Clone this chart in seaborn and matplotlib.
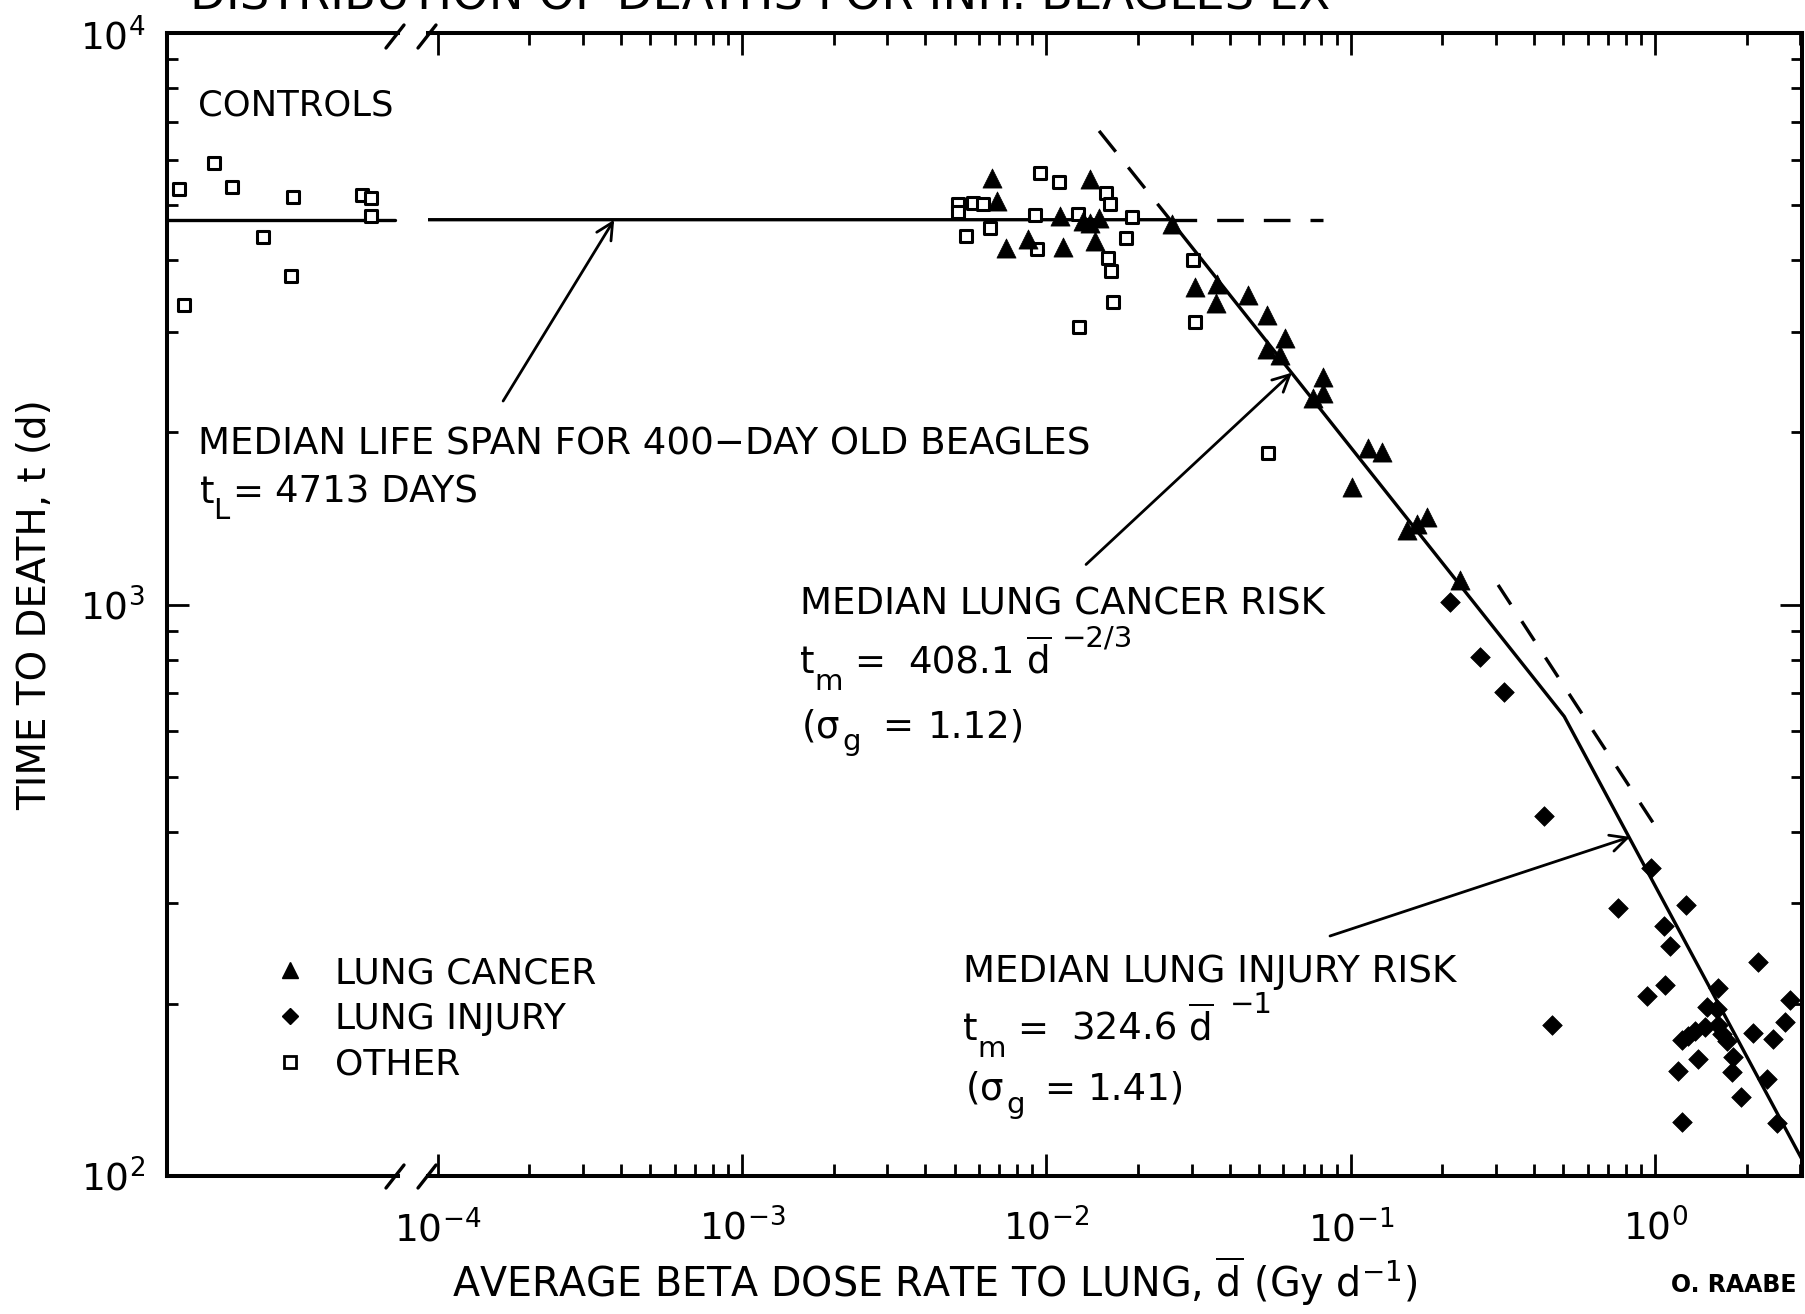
import matplotlib
matplotlib.use("Agg")
import matplotlib.pyplot as plt
import numpy as np
import pandas as pd
import seaborn as sns
from matplotlib.lines import Line2D
from matplotlib.ticker import LogLocator, NullFormatter, LogFormatterMathtext

# ---------------- data ----------------
# controls: position inside the control panel (no dose), time to death (d)
control_pos = [0.053, 0.203, 0.283, 0.547, 0.845, 0.882, 0.882, 0.417, 0.537, 0.075]
control_t = [5340, 5923, 5368, 5162, 5212, 5150, 4788, 4391, 3758, 3342]

cancer_d = [0.00664, 0.00687, 0.0139, 0.01108, 0.01322, 0.0139, 0.0149, 0.00736,
            0.00868, 0.01131, 0.01445, 0.0258, 0.03078, 0.03627, 0.036, 0.04608,
            0.05297, 0.0608, 0.053, 0.05856, 0.0813, 0.0813, 0.0754, 0.1143,
            0.1264, 0.1008, 0.1777, 0.1528, 0.165, 0.2286]
cancer_t = [5585, 5085, 5550, 4786, 4690, 4644, 4742, 4198,
            4358, 4214, 4328, 4641, 3597, 3631, 3363, 3478,
            3210, 2922, 2805, 2733, 2503, 2341, 2294, 1877,
            1851, 1608, 1424, 1350, 1385, 1104]

injury_d = [0.212, 0.266, 0.319, 0.4317, 0.7576, 0.4597, 0.968, 1.261, 1.073, 1.12,
            2.186, 1.079, 0.939, 1.607, 1.485, 1.595, 2.777, 2.675, 2.104, 2.437,
            1.224, 1.286, 1.353, 1.459, 1.615, 1.657, 1.72, 1.388, 1.808, 1.193,
            1.786, 2.327, 1.912, 1.224, 2.523]
injury_t = [1009, 808, 702, 426, 294.8, 183.4, 346.4, 298, 274.2, 252.3,
            236.9, 216.3, 206.4, 213.3, 197.2, 195.6, 202.9, 186.1, 177.7, 173.7,
            173.2, 175.8, 179.5, 182.1, 183.4, 176.9, 172, 160, 161.3, 152.7,
            152.2, 147.9, 137.7, 124.5, 123.6]

other_d = [0.00953, 0.011, 0.005135, 0.00573, 0.0062, 0.005135, 0.00653, 0.00543,
           0.00918, 0.01273, 0.01915, 0.0157, 0.01618, 0.00929, 0.01823, 0.01597,
           0.01627, 0.0166, 0.01283, 0.03025, 0.03078, 0.05336]
other_t = [5700, 5490, 5030, 5035, 5017, 4852, 4567, 4405,
           4801, 4820, 4768, 5252, 5030, 4188, 4370, 4037,
           3837, 3378, 3053, 4005, 3125, 1844]

life_span = 4713  # t_L
# median-risk model line (vertices of the piecewise line)
model_d = [9.29e-5, 0.0255, 0.503, 3.04]
model_t = [4713, 4713, 637, 106.9]
# dashed extensions
plateau_ext_d = [0.0255, 0.081]
plateau_ext_t = [4713, 4713]
cancer_ext_d = [0.0149, 0.0255]
cancer_ext_t = [6740, 4713]
low_ext_d = [0.305, 1.0]
low_ext_t = [1082, 410]

legend_labels = ["LUNG CANCER", "LUNG INJURY", "OTHER"]

# ---------------- style ----------------
sns.set_theme(style="ticks")
plt.rcParams["font.family"] = ["DejaVu Sans"]
plt.rcParams["mathtext.fontset"] = "dejavusans"
plt.rcParams["mathtext.default"] = "regular"
for k in ("text.color", "axes.labelcolor", "xtick.color", "ytick.color", "axes.edgecolor"):
    plt.rcParams[k] = "black"

W, H = 1806, 1314
fig = plt.figure(figsize=(W / 100, H / 100), dpi=100)
fig.patch.set_facecolor("white")


def fx(px):
    return px / W


def fy(py):
    return 1 - py / H


TOP, BOT = 33, 1176
axL = fig.add_axes([fx(167), fy(BOT), fx(398) - fx(167), fy(TOP) - fy(BOT)])
axR = fig.add_axes([fx(428), fy(BOT), fx(1802) - fx(428), fy(TOP) - fy(BOT)])
for a in (axL, axR):
    a.set_facecolor("white")
    a.set_yscale("log")
    a.set_ylim(100, 10000)
    for s in a.spines.values():
        s.set_linewidth(2.9)
        s.set_color("black")

axR.set_xscale("log")
axR.set_xlim(9.29e-5, 3.04)
axL.set_xlim(0, 1)

LW = 2.4
black = "black"

# ---- control panel ----
ctrl = pd.DataFrame({"pos": control_pos, "t": control_t})
sns.lineplot(x=[0, 0.985], y=[life_span, life_span], ax=axL, color=black, lw=LW,
             estimator=None, sort=False, legend=False)
sns.scatterplot(data=ctrl, x="pos", y="t", ax=axL, marker="s", s=85,
                facecolor="white", edgecolor=black, linewidth=2.2, legend=False, zorder=5)

# ---- main panel lines ----
def draw_line(xd, yd, **kw):
    sns.lineplot(x=xd, y=yd, ax=axR, color=black, estimator=None, sort=False,
                 legend=False, **kw)

draw_line(model_d, model_t, lw=LW)
draw_line(plateau_ext_d, plateau_ext_t, lw=LW, linestyle=(0, (8, 6)))
draw_line(cancer_ext_d, cancer_ext_t, lw=LW, linestyle=(0, (8, 6)))
draw_line(low_ext_d, low_ext_t, lw=LW, linestyle=(0, (7, 6)))

# ---- main panel points ----
df_c = pd.DataFrame({"d": cancer_d, "t": cancer_t})
df_i = pd.DataFrame({"d": injury_d, "t": injury_t})
df_o = pd.DataFrame({"d": other_d, "t": other_t})
sns.scatterplot(data=df_o, x="d", y="t", ax=axR, marker="s", s=85,
                facecolor="white", edgecolor=black, linewidth=2.2, legend=False, zorder=5)
sns.scatterplot(data=df_c, x="d", y="t", ax=axR, marker="^", s=190,
                color=black, edgecolor=black, linewidth=0.5, legend=False, zorder=6)
sns.scatterplot(data=df_i, x="d", y="t", ax=axR, marker="D", s=100,
                color=black, edgecolor=black, linewidth=0.5, legend=False, zorder=6)

# ---- ticks / spines ----
axL.spines["right"].set_visible(False)
axR.spines["left"].set_visible(False)
axL.tick_params(axis="x", which="both", bottom=False, top=False, labelbottom=False)
axL.yaxis.set_major_locator(LogLocator(base=10, numticks=10))
axL.yaxis.set_minor_locator(LogLocator(base=10, subs=np.arange(2, 10), numticks=20))
axL.yaxis.set_major_formatter(LogFormatterMathtext())
axL.yaxis.set_minor_formatter(NullFormatter())
axL.tick_params(axis="y", which="major", direction="in", left=True, right=False,
                length=16, width=2.0, labelsize=27, pad=16, colors=black)
axL.tick_params(axis="y", which="minor", direction="in", left=True, right=False,
                length=8, width=2.0)

axR.xaxis.set_major_locator(LogLocator(base=10, numticks=10))
axR.xaxis.set_minor_locator(LogLocator(base=10, subs=np.arange(2, 10), numticks=20))
axR.xaxis.set_major_formatter(LogFormatterMathtext())
axR.xaxis.set_minor_formatter(NullFormatter())
axR.tick_params(axis="x", which="major", direction="in", top=True, bottom=True,
                length=16, width=2.0, labelsize=27, pad=24, colors=black)
axR.tick_params(axis="x", which="minor", direction="in", top=True, bottom=True,
                length=8.5, width=2.0)
axR.yaxis.set_major_locator(LogLocator(base=10, numticks=10))
axR.yaxis.set_minor_locator(LogLocator(base=10, subs=np.arange(2, 10), numticks=20))
axR.tick_params(axis="y", which="major", direction="in", left=False, right=True,
                labelleft=False, labelright=False, length=16, width=2.0)
axR.tick_params(axis="y", which="minor", direction="in", left=False, right=True,
                labelleft=False, labelright=False, length=8, width=2.0)
for a in (axL, axR):
    a.set_xlabel("")
    a.set_ylabel("")

# ---- axis breaks ----
for x0 in (386, 418):
    for (yb, yt) in ((1188, 1165), (48, 25)):
        fig.add_artist(Line2D([fx(x0), fx(x0 + 18)], [fy(yb), fy(yt)], color=black,
                              lw=2.4, transform=fig.transFigure))

# ---- texts ----
FS = 26.7
SUB = 21


def ftxt(x, y, s, size=FS, **kw):
    fig.text(fx(x), fy(y), s, fontsize=size, ha="left", va="baseline", **kw)


ftxt(190, 9, "DISTRIBUTION OF DEATHS FOR INH. BEAGLES EX", size=33.5)
ftxt(198, 116, "CONTROLS", size=25.5)
ftxt(198, 455, "MEDIAN LIFE SPAN FOR 400\u2212DAY OLD BEAGLES")
# t_L= 4713 DAYS
ftxt(200, 503, "t")
ftxt(213, 519, "L", size=SUB)
ftxt(232, 503, "=")
ftxt(275, 503, "4713 DAYS")

# lung cancer block
ftxt(800, 615, "MEDIAN LUNG CANCER RISK")
ftxt(800, 673, "t")
ftxt(814, 690, "m", size=SUB)
ftxt(854, 673, "=")
ftxt(908, 673, "408.1")
ftxt(1026, 673, r"$\overline{d}$")
ftxt(1062, 647, "\u22122/3", size=SUB)
ftxt(802, 737, "(")
ftxt(815, 737, r"$\sigma$")
ftxt(842, 750, "g", size=SUB)
ftxt(882, 737, "=")
ftxt(928, 737, "1.12)")

# lung injury block
ftxt(963, 982, "MEDIAN LUNG INJURY RISK")
ftxt(963, 1040, "t")
ftxt(977, 1057, "m", size=SUB)
ftxt(1017, 1040, "=")
ftxt(1071, 1040, "324.6")
ftxt(1188, 1040, r"$\overline{d}$")
ftxt(1230, 1013, "\u22121", size=SUB)
ftxt(966, 1100, "(")
ftxt(979, 1100, r"$\sigma$")
ftxt(1006, 1113, "g", size=SUB)
ftxt(1044, 1100, "=")
ftxt(1088, 1100, "1.41)")

fig.text(fx(935), fy(1297), r"AVERAGE BETA DOSE RATE TO LUNG, $\overline{d}$ (Gy d$^{-1}$)",
         fontsize=28.5, ha="center", va="baseline")
fig.text(fx(35), fy(605), "TIME TO DEATH, t (d)", fontsize=28, rotation=90,
         ha="center", va="center")
fig.text(fx(1797), fy(1292), "O. RAABE", fontsize=17, fontweight="bold",
         ha="right", va="baseline")

# ---- arrows ----
arrow_kw = dict(arrowstyle="->", lw=2.0, color=black, mutation_scale=30,
                shrinkA=0, shrinkB=0)
axR.annotate("", xy=(3.8e-4, life_span), xytext=(1.64e-4, 2270), arrowprops=arrow_kw)
axR.annotate("", xy=(0.0641, 2545), xytext=(0.0135, 1175), arrowprops=arrow_kw)
axR.annotate("", xy=(0.828, 392), xytext=(0.0855, 263), arrowprops=arrow_kw)

# ---- legend ----
handles = [
    Line2D([], [], marker="^", ls="none", color=black, ms=11),
    Line2D([], [], marker="D", ls="none", color=black, ms=8),
    Line2D([], [], marker="s", ls="none", mfc="white", mec=black, mew=2.0, ms=8),
]
fig.legend(handles, legend_labels, loc="center left", bbox_to_anchor=(fx(272), fy(1019)),
           frameon=False, fontsize=26, handlelength=1.0, handletextpad=0.75,
           labelspacing=0.33, borderpad=0, borderaxespad=0)

fig.savefig("out.png", dpi=100, facecolor="white")
